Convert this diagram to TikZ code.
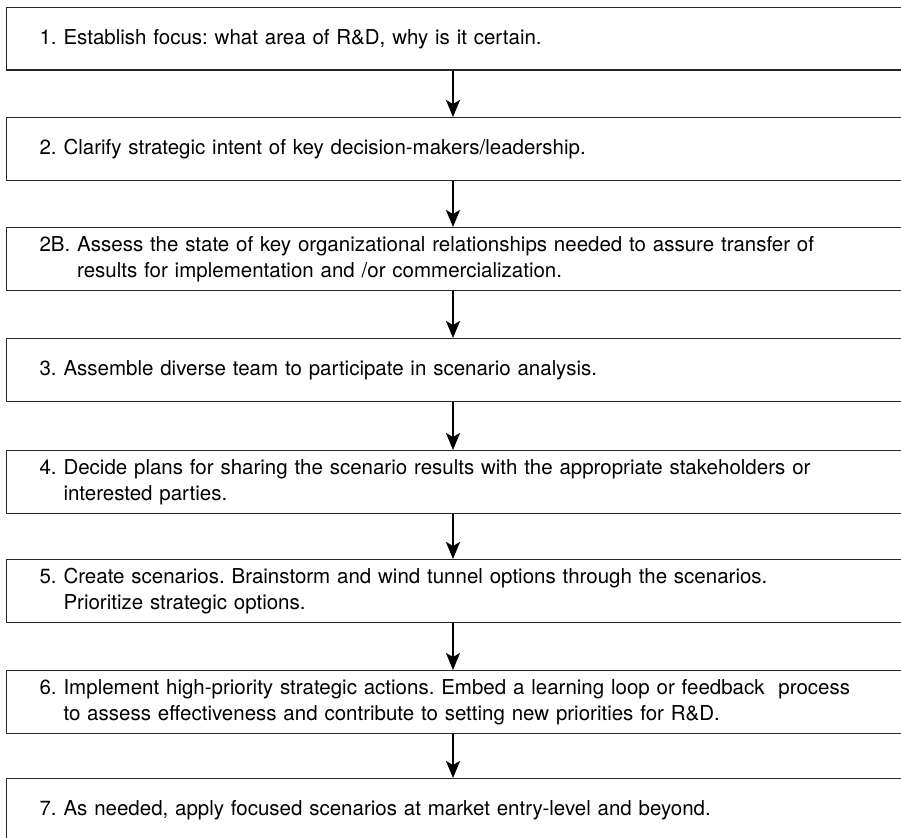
\documentclass[tikz,border=0pt]{standalone}
\usepackage{fontspec}
\setmainfont{TeX Gyre Heros}
\usetikzlibrary{arrows.meta}

\tikzset{
  stepbox/.style={draw=black!85, line width=1.2pt, anchor=north west,
    minimum height=62.5pt, text width=860pt, inner xsep=33pt, inner ysep=0pt,
    align=left, font=\fontsize{20.5}{26}\selectfont},
  flow/.style={line width=2pt, -{Stealth[length=17pt, width=14pt, inset=4pt]}}
}

% one step: number, then lines that hang after it
\newcommand{\steptext}[2]{\begin{tabular}{@{}l@{\ }l@{}}#1 & #2\end{tabular}}

\begin{document}
\frenchspacing
\begin{tikzpicture}[x=1pt, y=-1pt]
\useasboundingbox (0,0) rectangle (901,837);
\clip (0,0) rectangle (901,837);

\node[stepbox] (s1) at (6,7)
  {\steptext{1.}{Establish focus: what area of R\&D, why is it certain.}};
\node[stepbox] (s2) at (6,117)
  {\steptext{2.}{Clarify strategic intent of key decision-makers/leadership.}};
\node[stepbox] (s2b) at (6,227)
  {\steptext{2B.}{Assess the state of key organizational relationships needed to assure transfer of\\
   & results for implementation and /or commercialization.}};
\node[stepbox] (s3) at (6,338)
  {\steptext{3.}{Assemble diverse team to participate in scenario analysis.}};
\node[stepbox] (s4) at (6,450)
  {\steptext{4.}{Decide plans for sharing the scenario results with the appropriate stakeholders or\\
   & interested parties.}};
\node[stepbox] (s5) at (6,559)
  {\steptext{5.}{Create scenarios. Brainstorm and wind tunnel options through the scenarios.\\
   & Prioritize strategic options.}};
\node[stepbox] (s6) at (6,670)
  {\steptext{6.}{Implement high-priority strategic actions. Embed a learning loop or feedback\ \ process\\
   & to assess effectiveness and contribute to setting new priorities for R\&D.}};
\node[stepbox] (s7) at (6,778)
  {\steptext{7.}{As needed, apply focused scenarios at market entry-level and beyond.}};

\coordinate (ax) at (453,0);
\foreach \a/\b in {s1/s2, s2/s2b, s2b/s3, s3/s4, s4/s5, s5/s6, s6/s7}
  \draw[flow] (\a.south -| ax) -- (\b.north -| ax);
\end{tikzpicture}
\end{document}
